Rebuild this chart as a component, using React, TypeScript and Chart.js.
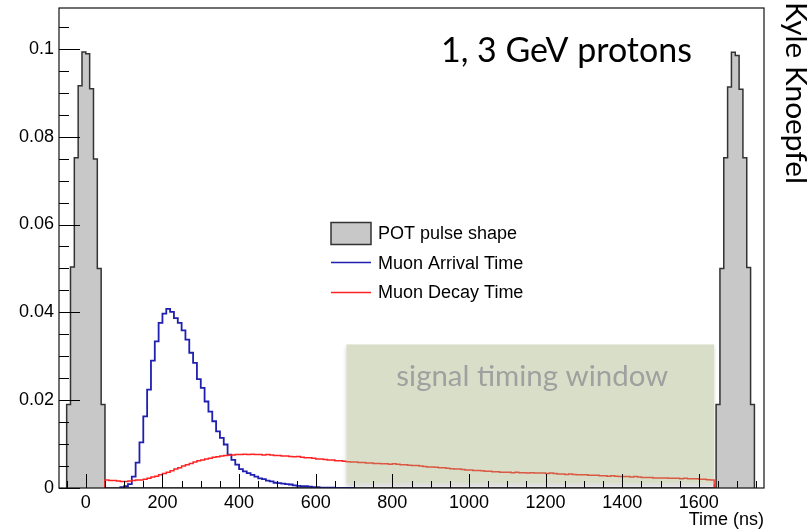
import React, { useEffect, useRef } from 'react';
import { Chart, registerables } from 'chart.js';

Chart.register(...registerables);

// All histograms use 10 ns bins; each series lists bin contents from its first lower edge.
const BIN_WIDTH = 10;

const pulseFirstStart = -50;
const pulseFirst = [0.019, 0.0503, 0.0752, 0.0916, 0.0993, 0.0989, 0.0909, 0.0749, 0.05, 0.019];

const pulseSecondStart = 1645;
const pulseSecond = [0.019, 0.05, 0.0752, 0.0913, 0.0992, 0.0985, 0.0908, 0.0752, 0.0502, 0.019];

const arrivalStart = 90;
const arrivalValues = [
  0.0002, 0.0004, 0.0009, 0.0026, 0.0058, 0.0104, 0.0163, 0.0224, 0.029, 0.0334,
  0.0376, 0.0397, 0.0408, 0.0401, 0.0387, 0.0376, 0.0359, 0.0338, 0.0308, 0.0285,
  0.0248, 0.0228, 0.0197, 0.0174, 0.0152, 0.0129, 0.0114, 0.0099, 0.0076, 0.0064,
  0.0053, 0.0043, 0.0038, 0.0034, 0.003, 0.0026, 0.0022, 0.002, 0.0017, 0.0015,
  0.0012, 0.0011, 0.001, 0.0009, 0.0008, 0.0006, 0.0005, 0.0004, 0.0004, 0.0003,
  0.0002, 0.0002, 0.0001, 0.0001, 0.0001, 0.0001, 0, 0, 0, 0,
  0,
];

const decayStart = 50;
const decayValues = [
  0.0018, 0.0017, 0.0017, 0.0016, 0.0015,
  0.0015, 0.0016, 0.0017, 0.0018, 0.0018, 0.002, 0.0022, 0.0025, 0.0027, 0.003,
  0.0033, 0.0036, 0.0039, 0.0043, 0.0046, 0.005, 0.0053, 0.0056, 0.0059, 0.0062,
  0.0064, 0.0066, 0.0068, 0.007, 0.0071, 0.0073, 0.0074, 0.0075, 0.0075, 0.0076,
  0.0076, 0.0077, 0.0076, 0.0077, 0.0076, 0.0076, 0.0075, 0.0076, 0.0075, 0.0074,
  0.0074, 0.0073, 0.0073, 0.0072, 0.0071, 0.0072, 0.007, 0.0069, 0.0069, 0.0068,
  0.0066, 0.0066, 0.0065, 0.0064, 0.0064, 0.0062, 0.0062, 0.0061, 0.006, 0.0059,
  0.0059, 0.0058, 0.0058, 0.0057, 0.0057, 0.0056, 0.0056, 0.0055, 0.0055, 0.0054,
  0.0055, 0.0054, 0.0053, 0.0053, 0.0052, 0.0051, 0.0051, 0.005, 0.0049, 0.0048,
  0.0048, 0.0047, 0.0046, 0.0046, 0.0045, 0.0044, 0.0043, 0.0043, 0.0042, 0.0041,
  0.0041, 0.004, 0.004, 0.0039, 0.0038, 0.0038, 0.0037, 0.0037, 0.0036, 0.0036,
  0.0036, 0.0035, 0.0036, 0.0035, 0.0035, 0.0034, 0.0035, 0.0034, 0.0034, 0.0034,
  0.0033, 0.0034, 0.0033, 0.0032, 0.0032, 0.0031, 0.0032, 0.0031, 0.003, 0.003,
  0.003, 0.0029, 0.0029, 0.0029, 0.0028, 0.0028, 0.0027, 0.0028, 0.0027, 0.0026,
  0.0026, 0.0026, 0.0025, 0.0026, 0.0025, 0.0024, 0.0024, 0.0024, 0.0023, 0.0023,
  0.0023, 0.0023, 0.0022, 0.0022, 0.0022, 0.0021, 0.0022, 0.0021, 0.0021, 0.0021,
  0.002, 0.002, 0.0019, 0.0018,
];

const xTickLabels = ['0', '200', '400', '600', '800', '1000', '1200', '1400', '1600'];
const yTickLabels = ['0', '0.02', '0.04', '0.06', '0.08', '0.1'];

const seriesNames = ['POT pulse shape', 'Muon Arrival Time', 'Muon Decay Time'];

// Time range (ns) and height range of the shaded signal timing window
const signalWindowNs = [680, 1640];
const signalWindowLevel = [0.001, 0.0327];

const X_MIN = -70;
const X_MAX = 1770;
const Y_MAX = 0.1093;

const AXIS_FONT = '"Liberation Sans", Arial, Helvetica, sans-serif';
const SLIDE_FONT = 'Lato, "Open Sans", sans-serif';

function histPoints(start: number, values: number[]) {
  const pts = [{ x: start, y: 0 }];
  values.forEach((v, i) => pts.push({ x: start + i * BIN_WIDTH, y: v }));
  pts.push({ x: start + values.length * BIN_WIDTH, y: 0 });
  return pts;
}

function fitFont(ctx: CanvasRenderingContext2D, text: string, family: string, width: number) {
  ctx.font = `100px ${family}`;
  const w = ctx.measureText(text).width;
  return `${(100 * width) / w}px ${family}`;
}

const xMajor = xTickLabels.map(Number);
const yMajor = yTickLabels.map(Number);

const decorations = {
  id: 'decorations',
  afterDatasetsDraw(chart: any) {
    const { ctx, chartArea: a, scales, width, height } = chart;
    const x = scales.x;
    const y = scales.y;

    // shaded signal window: soft shadow outside the box, then a translucent fill
    const wx0 = x.getPixelForValue(signalWindowNs[0]);
    const wx1 = x.getPixelForValue(signalWindowNs[1]);
    const wy0 = y.getPixelForValue(signalWindowLevel[1]);
    const wy1 = y.getPixelForValue(signalWindowLevel[0]);
    ctx.save();
    ctx.beginPath();
    ctx.rect(0, 0, width, height);
    ctx.rect(wx0, wy0, wx1 - wx0, wy1 - wy0);
    ctx.clip('evenodd');
    ctx.shadowColor = 'rgba(0,0,0,0.16)';
    ctx.shadowBlur = 4;
    ctx.shadowOffsetY = 3;
    ctx.fillStyle = '#fff';
    ctx.fillRect(wx0, wy0, wx1 - wx0, wy1 - wy0);
    ctx.restore();

    ctx.save();
    ctx.fillStyle = 'rgba(160,172,118,0.4)';
    ctx.fillRect(wx0, wy0, wx1 - wx0, wy1 - wy0);
    ctx.fillStyle = '#a0a0a0';
    ctx.textAlign = 'center';
    ctx.textBaseline = 'alphabetic';
    ctx.font = fitFont(ctx, 'signal timing window', SLIDE_FONT, 272);
    ctx.fillText('signal timing window', (wx0 + wx1) / 2 + 2, wy0 + 42);
    ctx.restore();

    // inward tick marks
    ctx.save();
    ctx.strokeStyle = '#000';
    ctx.lineWidth = 1;
    ctx.beginPath();
    for (const t of x.ticks) {
      const px = Math.round(x.getPixelForValue(t.value)) + 0.5;
      const len = xMajor.includes(t.value) ? 14 : 7;
      ctx.moveTo(px, a.bottom);
      ctx.lineTo(px, a.bottom - len);
    }
    for (const t of y.ticks) {
      const py = Math.round(y.getPixelForValue(t.value)) + 0.5;
      const len = yMajor.some((m) => Math.abs(m - t.value) < 1e-6) ? 21 : 10;
      ctx.moveTo(a.left, py);
      ctx.lineTo(a.left + len, py);
    }
    ctx.stroke();

    // frame
    ctx.lineWidth = 1.2;
    ctx.strokeStyle = '#111';
    ctx.strokeRect(a.left, a.top, a.right - a.left, a.bottom - a.top);
    ctx.restore();

    // legend
    const ds = chart.data.datasets;
    const lx = 331;
    const rows = [233.5, 263, 292.5];
    ctx.save();
    ctx.font = `18px ${AXIS_FONT}`;
    ctx.textBaseline = 'middle';
    ctx.textAlign = 'left';
    ds.forEach((d: any, i: number) => {
      const ry = rows[i];
      if (i === 0) {
        ctx.fillStyle = d.backgroundColor;
        ctx.strokeStyle = d.borderColor;
        ctx.lineWidth = 1.5;
        ctx.fillRect(lx, ry - 11, 40, 22);
        ctx.strokeRect(lx, ry - 11, 40, 22);
      } else {
        ctx.strokeStyle = d.borderColor;
        ctx.lineWidth = 1.5;
        ctx.beginPath();
        ctx.moveTo(lx, Math.round(ry) - 0.5);
        ctx.lineTo(lx + 40, Math.round(ry) - 0.5);
        ctx.stroke();
      }
      ctx.fillStyle = '#000';
      ctx.fillText(d.label, 378, ry + 1);
    });
    ctx.restore();

    // slide captions
    ctx.save();
    ctx.fillStyle = '#000';
    ctx.textBaseline = 'alphabetic';
    ctx.textAlign = 'left';
    ctx.font = fitFont(ctx, '1, 3 GeV protons', SLIDE_FONT, 251);
    ctx.fillText('1, 3 GeV protons', 441, 62);
    ctx.translate(786, 2);
    ctx.rotate(Math.PI / 2);
    ctx.font = fitFont(ctx, 'Kyle Knoepfel', SLIDE_FONT, 182);
    ctx.fillText('Kyle Knoepfel', 0, 0);
    ctx.restore();
  },
};

export default function App() {
  const canvasRef = useRef<HTMLCanvasElement | null>(null);

  useEffect(() => {
    document.body.style.margin = '0';
    const canvas = canvasRef.current;
    if (!canvas) return;

    const pulsePoints = [
      ...histPoints(pulseFirstStart, pulseFirst),
      ...histPoints(pulseSecondStart, pulseSecond),
    ];

    const chart = new Chart(canvas, {
      type: 'line',
      data: {
        datasets: [
          {
            label: seriesNames[0],
            data: pulsePoints,
            stepped: true,
            fill: 'origin',
            backgroundColor: '#c8c8c8',
            borderColor: '#333333',
            borderWidth: 1.5,
            pointRadius: 0,
            order: 3,
          },
          {
            label: seriesNames[1],
            data: histPoints(arrivalStart, arrivalValues),
            stepped: true,
            fill: false,
            borderColor: '#1f1fb0',
            backgroundColor: '#1f1fb0',
            borderWidth: 1.8,
            pointRadius: 0,
            order: 2,
          },
          {
            label: seriesNames[2],
            data: histPoints(decayStart, decayValues),
            stepped: true,
            fill: false,
            borderColor: '#ff2222',
            backgroundColor: '#ff2222',
            borderWidth: 1.5,
            pointRadius: 0,
            order: 1,
          },
        ],
      },
      options: {
        animation: false,
        responsive: false,
        devicePixelRatio: 1,
        parsing: false as any,
        normalized: true,
        layout: { padding: { left: 0, top: 8, right: 47, bottom: 0 } },
        plugins: {
          legend: { display: false },
          tooltip: { enabled: false },
        },
        scales: {
          x: {
            type: 'linear',
            min: X_MIN,
            max: X_MAX,
            grid: { display: false, drawTicks: false },
            border: { display: false },
            afterBuildTicks: (s: any) => {
              const ticks = [];
              for (let i = -1; i <= 35; i++) ticks.push({ value: i * 50 });
              s.ticks = ticks;
            },
            afterFit: (s: any) => {
              s.height = 43;
              s.paddingLeft = 0;
              s.paddingRight = 0;
            },
            ticks: {
              autoSkip: false,
              maxRotation: 0,
              minRotation: 0,
              padding: 4,
              color: '#000',
              font: { family: AXIS_FONT, size: 18 },
              callback: (v: any) => {
                const idx = xMajor.indexOf(Number(v));
                return idx >= 0 ? xTickLabels[idx] : '';
              },
            },
            title: {
              display: true,
              text: 'Time (ns)',
              align: 'end',
              color: '#000',
              font: { family: AXIS_FONT, size: 18 },
              padding: { top: 0, bottom: 0 },
            },
          },
          y: {
            type: 'linear',
            min: 0,
            max: Y_MAX,
            grid: { display: false, drawTicks: false },
            border: { display: false },
            afterBuildTicks: (s: any) => {
              const ticks = [];
              for (let i = 0; i <= 21; i++) ticks.push({ value: Math.round(i * 5) / 1000 });
              s.ticks = ticks;
            },
            afterFit: (s: any) => {
              s.width = 59;
              s.paddingTop = 0;
              s.paddingBottom = 0;
            },
            ticks: {
              autoSkip: false,
              padding: 5,
              color: '#000',
              font: { family: AXIS_FONT, size: 18 },
              callback: (v: any) => {
                const idx = yMajor.findIndex((m) => Math.abs(m - Number(v)) < 1e-6);
                return idx >= 0 ? yTickLabels[idx] : '';
              },
            },
          },
        },
      },
      plugins: [decorations],
    } as any);

    return () => chart.destroy();
  }, []);

  return (
    <div style={{ width: 811, height: 531, background: '#fff' }}>
      <canvas ref={canvasRef} width={811} height={531} style={{ display: 'block' }} />
    </div>
  );
}
